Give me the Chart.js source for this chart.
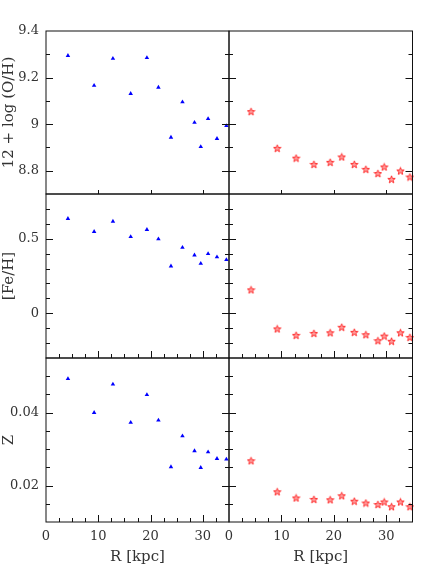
<!DOCTYPE html>
<html>
<head>
<meta charset="utf-8">
<script src="https://cdn.jsdelivr.net/npm/chart.js@4.4.1/dist/chart.umd.min.js"></script>
<style>
    body { margin: 0; background: #fff; }
    #wrap { position: relative; width: 436px; height: 581px; }
    #wrap canvas { position: absolute; left: 0; top: 0; }
</style>
</head>
<body>
<div id="wrap"></div>
<script>
// Galactocentric radius (kpc), same for both columns
const radius = [4.2, 9.2, 12.8, 16.2, 19.3, 21.5, 23.9, 26.1, 28.4, 29.6, 31.0, 32.7, 34.5];

// Left column (blue triangles)
const ohBlue = [9.294, 9.166, 9.282, 9.131, 9.285, 9.158, 8.943, 9.095, 9.007, 8.903, 9.023, 8.938, 8.993];
const feBlue = [0.635, 0.547, 0.616, 0.513, 0.561, 0.498, 0.316, 0.441, 0.390, 0.334, 0.399, 0.377, 0.359];
const zBlue = [0.0493, 0.0400, 0.0478, 0.0373, 0.0449, 0.0379, 0.0251, 0.0336, 0.0295, 0.0249, 0.0292, 0.0274, 0.0272];

// Right column (red stars)
const ohRed = [9.054, 8.896, 8.854, 8.827, 8.836, 8.859, 8.827, 8.806, 8.788, 8.816, 8.763, 8.799, 8.773];
const feRed = [0.157, -0.105, -0.148, -0.135, -0.131, -0.094, -0.128, -0.144, -0.184, -0.153, -0.188, -0.131, -0.162];
const zRed = [0.0268, 0.0183, 0.0166, 0.0162, 0.0161, 0.0172, 0.0157, 0.0152, 0.0148, 0.0155, 0.0142, 0.0155, 0.0142];

// Tick labels
const rTicks = [0, 10, 20, 30];
const ohTicks = [8.8, 9, 9.2, 9.4];
const feTicks = [0, 0.5];
const zTicks = [0.02, 0.04];

const W = 436, H = 581;
const colX = [46, 229, 412.5];
const rowY = [31, 194, 358, 522];
const textColor = '#333';

// 5-point star marker
function makeStar() {
    const c = document.createElement('canvas');
    c.width = 9; c.height = 9;
    const g = c.getContext('2d');
    g.beginPath();
    for (let i = 0; i < 10; i++) {
        const r = i % 2 === 0 ? 3.9 : 1.6;
        const a = -Math.PI / 2 + i * Math.PI / 5;
        const px = 4.5 + r * Math.cos(a), py = 4.8 + r * Math.sin(a);
        if (i === 0) g.moveTo(px, py); else g.lineTo(px, py);
    }
    g.closePath();
    g.fillStyle = 'rgba(255,60,60,0.5)';
    g.fill();
    g.strokeStyle = '#ff2020';
    g.lineWidth = 0.9;
    g.stroke();
    return c;
}
const starImg = makeStar();

// inward ticks + frame, positions from the chart scales
const frameTicks = {
    id: 'frameTicks',
    afterDatasetsDraw(chart, args, opts) {
        const {ctx, chartArea: a, scales: {x, y}} = chart;
        ctx.save();
        ctx.strokeStyle = '#111';
        ctx.lineWidth = 1;
        ctx.strokeRect(a.left, a.top, a.right - a.left, a.bottom - a.top);
        ctx.beginPath();
        // y ticks on both sides
        let n = Math.round((opts.yMax - opts.yMin) / opts.yMinor);
        for (let i = 1; i < n; i++) {
            const v = opts.yMin + i * opts.yMinor;
            const q = v / opts.yMajor;
            const major = Math.abs(q - Math.round(q)) < 1e-6;
            const len = major ? 7 : 4;
            const py = Math.round(y.getPixelForValue(v)) + 0.5;
            ctx.moveTo(a.left, py); ctx.lineTo(a.left + len, py);
            ctx.moveTo(a.right, py); ctx.lineTo(a.right - len, py);
        }
        // x ticks on bottom edge
        n = Math.round(35 / 2.5);
        for (let i = 1; i < n; i++) {
            const v = i * 2.5;
            const major = v % 10 === 0;
            if (!major && opts.majorOnly) continue;
            const len = opts.majorOnly ? 4 : (major ? 7 : 4);
            const px = Math.round(x.getPixelForValue(v)) + 0.5;
            ctx.moveTo(px, a.bottom); ctx.lineTo(px, a.bottom - len);
        }
        ctx.stroke();
        ctx.restore();
    }
};

const wrap = document.getElementById('wrap');

function panel(col, row, values, yMin, yMax, yMajor, yMinor, yTicks, yTitle) {
    const canvas = document.createElement('canvas');
    canvas.width = W; canvas.height = H;
    wrap.appendChild(canvas);

    const showY = col === 0;
    const showX = row === 2;
    const yw = showY ? 46 : 0;
    const xh = showX ? 59 : 0;

    new Chart(canvas, {
        type: 'scatter',
        data: {
            datasets: [{
                data: radius.map((r, i) => ({x: r, y: values[i]})),
                pointStyle: col === 0 ? 'triangle' : starImg,
                pointRadius: col === 0 ? 2.6 : 4,
                backgroundColor: '#0000ff',
                borderColor: '#0000ff',
                borderWidth: 0,
                clip: false
            }]
        },
        options: {
            responsive: false,
            animation: false,
            devicePixelRatio: 1,
            layout: {
                padding: {
                    left: colX[col] - yw,
                    right: W - colX[col + 1],
                    top: rowY[row],
                    bottom: H - rowY[row + 1] - xh
                }
            },
            scales: {
                x: {
                    type: 'linear',
                    min: 0,
                    max: 35,
                    display: showX,
                    afterFit: s => { s.height = xh; },
                    afterBuildTicks: s => { s.ticks = rTicks.map(v => ({value: v})); },
                    grid: { display: false, drawTicks: false },
                    border: { display: false },
                    ticks: {
                        padding: 7,
                        color: textColor,
                        font: { family: 'DejaVu Serif', size: 13 },
                        maxRotation: 0
                    },
                    title: {
                        display: true,
                        text: 'R [kpc]',
                        color: textColor,
                        font: { family: 'DejaVu Serif', size: 15 },
                        padding: { top: 0, bottom: 15 }
                    }
                },
                y: {
                    type: 'linear',
                    min: yMin,
                    max: yMax,
                    display: showY,
                    afterFit: s => { s.width = yw; },
                    afterBuildTicks: s => { s.ticks = yTicks.map(v => ({value: v})); },
                    grid: { display: false, drawTicks: false },
                    border: { display: false },
                    ticks: {
                        padding: 7,
                        color: textColor,
                        font: { family: 'DejaVu Serif', size: 13 },
                        callback: v => String(v)
                    },
                    title: {
                        display: true,
                        text: yTitle,
                        color: textColor,
                        font: { family: 'DejaVu Serif', size: 15 },
                        padding: { top: 0, bottom: 0 }
                    }
                }
            },
            plugins: {
                legend: { display: false },
                tooltip: { enabled: false },
                frameTicks: {
                    yMin: yMin, yMax: yMax, yMajor: yMajor, yMinor: yMinor,
                    majorOnly: row === 0
                }
            }
        },
        plugins: [frameTicks]
    });
}

panel(0, 0, ohBlue, 8.7, 9.4, 0.2, 0.1, ohTicks, '12 + log (O/H)');
panel(1, 0, ohRed, 8.7, 9.4, 0.2, 0.1, ohTicks, '12 + log (O/H)');
panel(0, 1, feBlue, -0.3, 0.8, 0.5, 0.1, feTicks, '[Fe/H]');
panel(1, 1, feRed, -0.3, 0.8, 0.5, 0.1, feTicks, '[Fe/H]');
panel(0, 2, zBlue, 0.01, 0.055, 0.02, 0.005, zTicks, 'Z');
panel(1, 2, zRed, 0.01, 0.055, 0.02, 0.005, zTicks, 'Z');
</script>
</body>
</html>
